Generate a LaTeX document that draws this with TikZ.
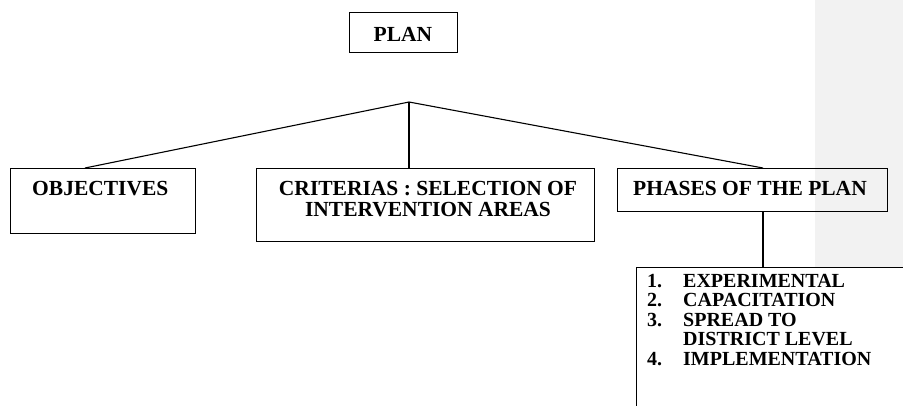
\documentclass[tikz,border=0pt]{standalone}
\usepackage{fontspec}
\setmainfont{Liberation Serif}
\usetikzlibrary{calc}
\begin{document}
\begin{tikzpicture}[x=1pt,y=-1pt,
  box/.style={draw=black, line width=1.1pt, inner sep=0pt, anchor=north west},
  lbl/.style={font=\bfseries\fontsize{21.5}{22}\selectfont, inner sep=0pt},
  item/.style={font=\bfseries\fontsize{20}{20}\selectfont, inner sep=0pt, anchor=base west},
  conn/.style={draw=black, line width=1.1pt}]
\fill[white] (0,0) rectangle (903,405);
\useasboundingbox (0,0) rectangle (903,405);
\clip (0,0) rectangle (903,405);
\fill[black!5] (815,0) rectangle (903,267);
% boxes
\node[box, minimum width=108pt, minimum height=40pt] (plan) at (349,12) {};
\node[box, minimum width=185pt, minimum height=65pt] (obj) at (10,168) {};
\node[box, minimum width=338pt, minimum height=73pt] (crit) at (256,168) {};
\node[box, minimum width=270pt, minimum height=43pt] (phase) at (617,168) {};
\node[box, minimum width=300pt, minimum height=160pt] (list) at (636,267) {};
% texts
\node[lbl, anchor=base] (plant) at (403,41) {PLAN};
\node[lbl, anchor=base west] (objt) at (32,195) {OBJECTIVES};
\node[lbl, anchor=base] (crit1) at (428,195) {CRITERIAS : SELECTION OF};
\node[lbl, anchor=base] (crit2) at (428,216) {INTERVENTION AREAS};
\node[lbl, anchor=base] (phaset) at (750,195) {PHASES OF THE PLAN};
\node[item] (l1) at (647,287) {\makebox[36pt][l]{1.}EXPERIMENTAL};
\node[item] (l2) at (647,306.5) {\makebox[36pt][l]{2.}CAPACITATION};
\node[item] (l3) at (647,326) {\makebox[36pt][l]{3.}SPREAD TO};
\node[item] (l4) at (647,345.5) {\makebox[36pt][l]{}DISTRICT LEVEL};
\node[item] (l5) at (647,365) {\makebox[36pt][l]{4.}IMPLEMENTATION};
% connectors
\coordinate (apex) at (409,102);
\coordinate (objtop) at ($(obj.north west)+(75,0)$);
\coordinate (crittop) at (409,168);
\coordinate (phasetop) at (763,168);
\coordinate (phasebot) at (763,211);
\coordinate (listtop) at (763,267);
\draw[conn] (objtop) -- (apex) -- (phasetop);
\draw[conn] (apex) -- (crittop);
\draw[conn] (phasebot) -- (listtop);
\end{tikzpicture}
\end{document}
